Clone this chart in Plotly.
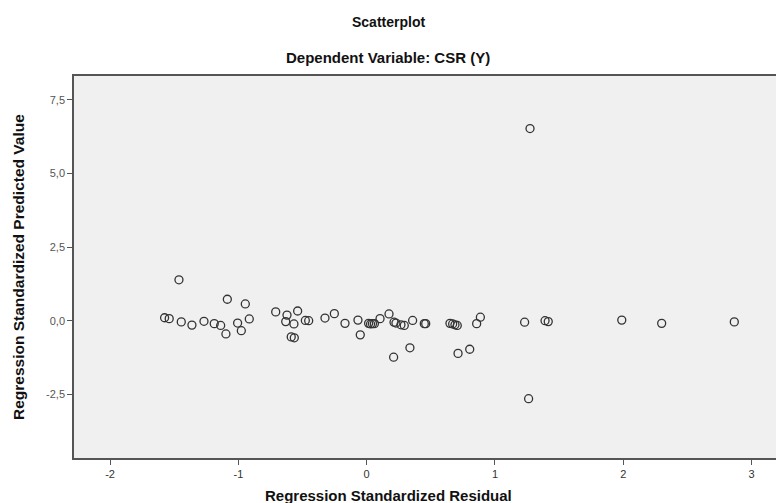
import plotly.graph_objects as go

# Regression Standardized Residual (x) and Regression Standardized Predicted Value (y)
residual = [-1.463, -1.575, -1.539, -1.445, -1.362, -1.268, -1.188, -1.138, -1.086, -1.097,
            -1.006, -0.977, -0.946, -0.915, -0.709, -0.621, -0.538, -0.631, -0.567, -0.588,
            -0.564, -0.478, -0.452, -0.325, -0.252, -0.169, -0.068, -0.050, 0.015, 0.030,
            0.045, 0.060, 0.104, 0.174, 0.213, 0.228, 0.267, 0.293, 0.358, 0.337,
            0.210, 0.449, 0.460, 0.649, 0.670, 0.688, 0.706, 0.712, 0.803, 0.857,
            0.886, 1.231, 1.390, 1.415, 1.988, 2.299, 2.865, 1.273, 1.262]
predicted = [1.39, 0.10, 0.07, -0.04, -0.15, -0.02, -0.10, -0.16, 0.73, -0.45,
             -0.08, -0.34, 0.57, 0.06, 0.30, 0.19, 0.33, -0.03, -0.11, -0.55,
             -0.58, 0.01, 0.00, 0.09, 0.24, -0.09, 0.02, -0.48, -0.09, -0.11,
             -0.10, -0.10, 0.07, 0.23, -0.05, -0.08, -0.14, -0.16, 0.01, -0.92,
             -1.24, -0.10, -0.10, -0.09, -0.11, -0.14, -0.16, -1.11, -0.97, -0.10,
             0.12, -0.05, 0.00, -0.03, 0.02, -0.09, -0.04, 6.53, -2.65]

x_ticks = [-2, -1, 0, 1, 2, 3]
x_tick_labels = ["-2", "-1", "0", "1", "2", "3"]
y_ticks = [-2.5, 0.0, 2.5, 5.0, 7.5]
y_tick_labels = ["-2,5", "0,0", "2,5", "5,0", "7,5"]

title_text = "Scatterplot"
subtitle_text = "Dependent Variable: CSR (Y)"
x_title = "Regression Standardized Residual"
y_title = "Regression Standardized Predicted Value"

FONT = "Liberation Sans, Arial, sans-serif"

fig = go.Figure()
fig.add_trace(go.Scatter(
    x=residual, y=predicted, mode="markers",
    marker=dict(symbol="circle-open", size=8, color="#333333", line=dict(width=1.3)),
    showlegend=False, hoverinfo="x+y",
))

fig.update_layout(
    width=776, height=503,
    margin=dict(l=74, r=0, t=76, b=45),
    paper_bgcolor="white",
    plot_bgcolor="#F0F0F0",
    font=dict(family=FONT, color="#222222"),
    xaxis=dict(
        range=[-2.281, 3.190], tickvals=x_ticks, ticktext=x_tick_labels,
        showgrid=False, zeroline=False, showline=True, mirror=True,
        linecolor="#555555", linewidth=1.5,
        ticks="outside", ticklen=5, tickcolor="#555555", tickwidth=1,
        tickfont=dict(family=FONT, size=11, color="#333333"),
    ),
    yaxis=dict(
        range=[-4.665, 8.315], tickvals=y_ticks, ticktext=y_tick_labels,
        showgrid=False, zeroline=False, showline=True, mirror=False,
        linecolor="#555555", linewidth=1.5,
        ticks="outside", ticklen=5, tickcolor="#555555", tickwidth=1,
        tickfont=dict(family=FONT, size=11, color="#555555"),
    ),
    annotations=[
        dict(text="<b>%s</b>" % title_text, xref="paper", yref="paper",
             x=0.4473, y=1.1414, xanchor="center", yanchor="middle",
             showarrow=False, font=dict(family=FONT, size=14, color="#111111")),
        dict(text="<b>%s</b>" % subtitle_text, xref="paper", yref="paper",
             x=0.4473, y=1.0497, xanchor="center", yanchor="middle",
             showarrow=False, font=dict(family=FONT, size=15, color="#111111")),
        dict(text="<b>%s</b>" % x_title, xref="paper", yref="paper",
             x=0.4473, y=-0.097, xanchor="center", yanchor="middle",
             showarrow=False, font=dict(family=FONT, size=15, color="#111111")),
        dict(text="<b>%s</b>" % y_title, xref="paper", yref="paper",
             x=-0.0798, y=0.5, xanchor="center", yanchor="middle", textangle=-90,
             showarrow=False, font=dict(family=FONT, size=15.5, color="#111111")),
    ],
)

fig.write_html("out.html", config={"displayModeBar": False},
               post_script="document.body.style.margin='0px';document.body.style.overflow='hidden';")
